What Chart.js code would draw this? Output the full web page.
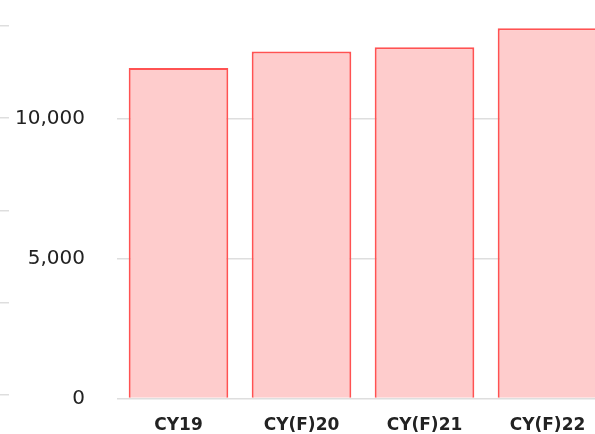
<!DOCTYPE html>
<html>
<head>
<meta charset="utf-8">
<script src="https://cdn.jsdelivr.net/npm/chart.js@4/dist/chart.umd.min.js"></script>
<style>
  html, body { margin: 0; padding: 0; background: #fff; }
  #clip { position: relative; width: 595px; height: 434px; overflow: hidden; }
  #wrap { position: absolute; left: 0; top: 0; width: 609px; height: 434px; }
</style>
</head>
<body>
<div id="clip"><div id="wrap"><canvas id="myChart"></canvas></div></div>
<script>
var categories = ['CY19', 'CY(F)20', 'CY(F)21', 'CY(F)22'];
var values = [11800, 12390, 12540, 13220];
var yTicks = [0, 5000, 10000];
var outerTicks = [0, 1, 2, 3, 4];

var gridColor = '#dedede';

var ctx = document.getElementById('myChart').getContext('2d');
var myChart = new Chart(ctx, {
    type: 'bar',
    data: {
        labels: categories,
        datasets: [{
            label: 'Value',
            data: values,
            backgroundColor: 'rgb(254, 204, 204)',
            borderColor: 'rgb(255, 82, 82)',
            borderWidth: 2,
            categoryPercentage: 0.81,
            barPercentage: 1.0
        }]
    },
    options: {
      responsive: true,
      maintainAspectRatio: false,
      animation: false,
      layout: { padding: { top: 26, left: 0, right: 0, bottom: 0 } },
      plugins: {
        legend: { display: false },
        tooltip: { enabled: false }
      },
      scales: {
        x: {
          grid: { display: false },
          border: { display: false },
          ticks: {
            padding: 9,
            color: '#222',
            font: { family: 'DejaVu Sans', size: 17, weight: 'bold' }
          },
          afterFit: function(scale) { scale.height = 35.5; }
        },
        y: {
          position: 'left',
          weight: 0,
          min: 0,
          max: 13300,
          grid: { color: gridColor, lineWidth: 1.5, tickLength: 28, tickColor: 'rgba(0,0,0,0)' },
          border: { display: false },
          ticks: {
            padding: 4,
            color: '#222',
            font: { family: 'DejaVu Sans', size: 20 },
            callback: function(v) { return v.toLocaleString('en-US'); }
          },
          afterBuildTicks: function(scale) {
            scale.ticks = yTicks.map(function(v) { return { value: v }; });
          },
          afterFit: function(scale) { scale.width = 108; }
        },
        yOuter: {
          position: 'left',
          weight: 10,
          min: -0.04,
          max: 4,
          grid: { color: gridColor, lineWidth: 1.5, drawOnChartArea: false, tickLength: 9 },
          border: { display: false },
          ticks: { display: false },
          afterBuildTicks: function(scale) {
            scale.ticks = outerTicks.map(function(v) { return { value: v }; });
          },
          afterFit: function(scale) { scale.width = 9; }
        }
      }
    }
});
</script>
</body>
</html>
